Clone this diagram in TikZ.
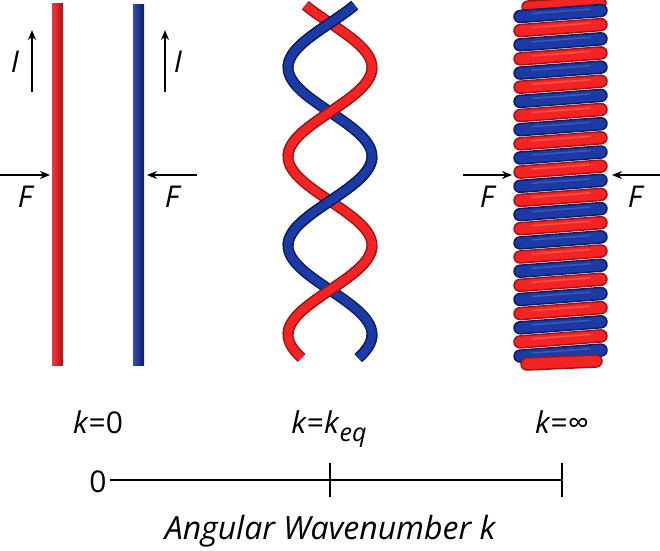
\documentclass[tikz,border=0pt]{standalone}
\usepackage{fontspec}
\setmainfont{Open Sans}
\usetikzlibrary{arrows.meta}
\definecolor{tred}{RGB}{244,36,36}
\definecolor{tredd}{RGB}{165,18,18}
\definecolor{tblue}{RGB}{28,58,165}
\definecolor{tblued}{RGB}{10,28,100}
\begin{document}
\begin{tikzpicture}[x=1pt,y=-1pt,
  font=\fontsize{30}{36}\selectfont,
  arr/.style={line width=2.2pt,-{Stealth[length=10pt,width=8pt]}},
  lbl/.style={inner sep=0pt,anchor=base},
  axisline/.style={line width=1.8pt},
  bandout/.style={line cap=round,line width=13.5pt},
  bandin/.style={line cap=round,line width=10.5pt},
  bandhi/.style={line cap=round,line width=1.5pt},
  tubeout/.style={line width=11pt},
  tubein/.style={line width=8pt}]
\useasboundingbox (0,0) rectangle (660,550);
% straight rods
\shade[left color=tred!90!white,middle color=tred,right color=tredd] (52,3) rectangle (63,365);
\shade[left color=tblue!90!white,middle color=tblue,right color=tblued] (133,4) rectangle (144,365);
% current arrows
\coordinate (i1s) at (32,92); \coordinate (i1e) at (32,30);
\coordinate (i2s) at (165,92); \coordinate (i2e) at (165,30);
\draw[arr] (i1s) -- (i1e);
\draw[arr] (i2s) -- (i2e);
\node[lbl] (I1) at (15,72) {\itshape I};
\node[lbl] (I2) at (178,72) {\itshape I};
% force arrows
\coordinate (f1s) at (0,175); \coordinate (f1e) at (50,175);
\coordinate (f2s) at (197,175); \coordinate (f2e) at (147,175);
\coordinate (f3s) at (463,175); \coordinate (f3e) at (512,175);
\coordinate (f4s) at (660,175); \coordinate (f4e) at (612,175);
\draw[arr] (f1s) -- (f1e);
\draw[arr] (f2s) -- (f2e);
\draw[arr] (f3s) -- (f3e);
\draw[arr] (f4s) -- (f4e);
\node[lbl] (F1) at (25,207) {\itshape F};
\node[lbl] (F2) at (172,207) {\itshape F};
\node[lbl] (F3) at (487,207) {\itshape F};
\node[lbl] (F4) at (635,207) {\itshape F};
% twisted pair: full strands first
\foreach \s/\c/\d in {1/tred/tredd, -1/tblue/tblued}{
  \draw[tubeout,\d] plot[domain=-0.2:3.764,samples=120,variable=\t] ({330+\s*42*sin(180*\t)},{23+89*\t});
  \draw[tubein,\c] plot[domain=-0.2:3.764,samples=120,variable=\t] ({330+\s*42*sin(180*\t)},{23+89*\t});
}
% front segments on top
\foreach \s/\c/\d/\a/\b in {1/tred/tredd/0.5/1.5, 1/tred/tredd/2.5/3.5,
    -1/tblue/tblued/-0.2/0.5, -1/tblue/tblued/1.5/2.5, -1/tblue/tblued/3.5/3.764}{
  \draw[tubeout,\d] plot[domain=\a:\b,samples=30,variable=\t] ({330+\s*42*sin(180*\t)},{23+89*\t});
  \draw[tubein,\c] plot[domain=\a:\b,samples=30,variable=\t] ({330+\s*42*sin(180*\t)},{23+89*\t});
}
% coil
\draw[bandout,tredd] (528,7) -- (600,3);
\draw[bandin,tred] (528,7) -- (600,3);
\foreach \k in {0,...,12}{
  \pgfmathsetmacro{\yb}{13.5+28.3*\k}
  \draw[bandout,tblued] (520,\yb+3) -- (601,\yb-3);
  \draw[bandin,tblue] (520,\yb+3) -- (601,\yb-3);
  \draw[bandhi,tblue!85!white] (532,\yb) -- (590,\yb-4.5);
  \ifnum\k<12
  \pgfmathsetmacro{\yr}{27.6+28.3*\k}
  \draw[bandout,tredd] (520,\yr+3) -- (601,\yr-3);
  \draw[bandin,tred] (520,\yr+3) -- (601,\yr-3);
  \draw[bandhi,tred!80!white] (532,\yr) -- (590,\yr-4.5);
  \fi
}
\draw[bandout,tredd] (527,364) -- (596,361);
\draw[bandin,tred] (527,364) -- (596,361);
% labels
\node[lbl] (k0) at (98,433) {\textit{k}=0};
\node[lbl] (keq) at (329,433) {\textit{k}=\textit{k}\raisebox{-8pt}{\fontsize{25}{25}\selectfont\itshape eq}};
\node[lbl] (kinf) at (562,433) {\textit{k}=∞};
% axis
\node[lbl] (zero) at (98,492) {0};
\coordinate (a0) at (110,480); \coordinate (a2) at (562,480);
\coordinate (t1a) at (330,463); \coordinate (t1b) at (330,497);
\coordinate (t2a) at (562,463); \coordinate (t2b) at (562,497);
\draw[axisline] (a0) -- (a2);
\draw[axisline] (t1a) -- (t1b);
\draw[axisline] (t2a) -- (t2b);
\node[lbl,font=\fontsize{32}{38}\selectfont] (title) at (330,539) {\itshape Angular Wavenumber k};
\end{tikzpicture}
\end{document}
